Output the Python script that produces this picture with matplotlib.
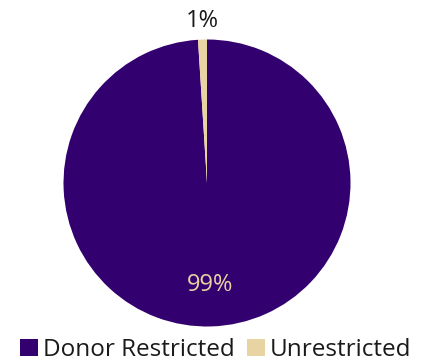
import matplotlib.pyplot as plt
import numpy as np

plt.rcParams['font.family'] = ['Open Sans', 'DejaVu Sans']

labels = ['Donor Restricted', 'Unrestricted']
shares = [99, 1]
colors = ['#33006F', '#E8D3A2']

fig = plt.figure(figsize=(4.27, 3.62), dpi=100)
ax = fig.add_axes([0, 0, 1, 1])

wedges, texts, autotexts = ax.pie(
    shares, colors=colors, startangle=90, counterclock=False,
    center=(207, 179), radius=143.5, autopct='%1.0f%%', pctdistance=0.71,
    textprops={'fontsize': 17}, wedgeprops={'linewidth': 0})

# big slice label sits inside in gold, small one goes outside on top
autotexts[0].set_color('#E8D3A2')
w = wedges[1]
ang = np.deg2rad((w.theta1 + w.theta2) / 2)
autotexts[1].set_position((207 + 1.13 * 143.5 * np.cos(ang), 179 + 1.13 * 143.5 * np.sin(ang)))
autotexts[1].set_color('#1a1a1a')

ax.set_xlim(0, 427)
ax.set_ylim(0, 362)
ax.set_aspect('equal')
ax.axis('off')

fig.legend(wedges, labels, loc='lower center', bbox_to_anchor=(0.505, 0.0), ncol=2,
           frameon=False, fontsize=17.5, handlelength=0.75, handleheight=0.75,
           handletextpad=0.2, columnspacing=0.5, borderpad=0, borderaxespad=0,
           labelcolor='#1a1a1a')

fig.savefig('out.png', dpi=100)
